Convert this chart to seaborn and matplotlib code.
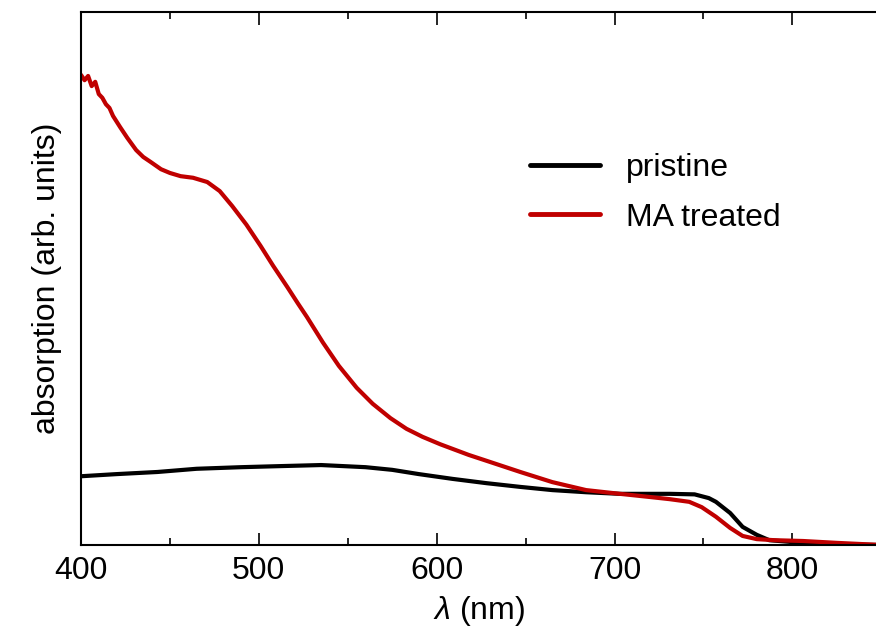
import numpy as np
import pandas as pd
import matplotlib
matplotlib.use('Agg')
import matplotlib.pyplot as plt
import seaborn as sns
from matplotlib.ticker import MultipleLocator

# wavelengths (nm) and absorption (arb. units)
wl_pristine = [400, 420, 443, 465, 490, 512, 535, 560, 575, 590, 609, 628, 647, 665,
               684, 703, 731, 745, 753, 757, 765, 772, 780, 787, 798, 810, 850]
abs_pristine = [0.129, 0.133, 0.137, 0.143, 0.146, 0.148, 0.150, 0.146, 0.141, 0.133,
                0.124, 0.116, 0.109, 0.103, 0.099, 0.096, 0.096, 0.095, 0.088, 0.081,
                0.060, 0.034, 0.019, 0.009, 0.006, 0.002, 0.0]

wl_treated = [400, 402, 404, 406, 408, 410, 412, 414, 416, 418, 422, 426, 431, 435, 439,
              445, 450, 456, 463, 471, 478, 485, 493, 501, 508, 516, 522, 527, 536, 545,
              555, 564, 574, 583, 592, 602, 618, 628, 647, 665, 684, 703, 720, 731, 742,
              749, 757, 765, 772, 780, 790, 806, 825, 850]
abs_treated = [0.882, 0.872, 0.880, 0.861, 0.869, 0.846, 0.839, 0.827, 0.820, 0.805,
               0.784, 0.764, 0.741, 0.728, 0.719, 0.705, 0.698, 0.692, 0.689, 0.681,
               0.664, 0.636, 0.601, 0.561, 0.524, 0.484, 0.453, 0.428, 0.380, 0.336,
               0.295, 0.265, 0.238, 0.218, 0.203, 0.189, 0.169, 0.158, 0.137, 0.118,
               0.103, 0.096, 0.090, 0.086, 0.081, 0.071, 0.053, 0.032, 0.017, 0.011,
               0.009, 0.0075, 0.004, 0.0]

df = pd.concat([
    pd.DataFrame({'wl': wl_pristine, 'abs': abs_pristine, 'sample': 'pristine'}),
    pd.DataFrame({'wl': wl_treated, 'abs': abs_treated, 'sample': 'MA treated'}),
], ignore_index=True)

sns.set_theme(style='ticks', rc={'axes.edgecolor': 'black', 'xtick.color': 'black',
                                 'text.color': 'black', 'axes.labelcolor': 'black'})
plt.rcParams['font.family'] = ['Liberation Sans', 'DejaVu Sans']
plt.rcParams['mathtext.fontset'] = 'custom'
plt.rcParams['mathtext.it'] = 'Liberation Sans:italic'
plt.rcParams['mathtext.rm'] = 'Liberation Sans'

fig = plt.figure(figsize=(8.76, 6.35), dpi=100)
ax = fig.add_axes([81 / 876, 1 - 545 / 635, 1 - 81 / 876, 533 / 635])

sns.lineplot(data=df, x='wl', y='abs', hue='sample', sort=False,
             palette={'pristine': 'black', 'MA treated': '#c00000'},
             linewidth=3.0, solid_joinstyle='round', ax=ax)

ax.set_xlim(400, 847)
ax.set_ylim(0, 1)
ax.set_yticks([])
ax.xaxis.set_major_locator(MultipleLocator(100))
ax.xaxis.set_minor_locator(MultipleLocator(50))
ax.tick_params(axis='x', which='both', direction='in', top=True, width=1.2,
               labelsize=23, pad=8, colors='black')
ax.tick_params(axis='x', which='major', length=9)
ax.tick_params(axis='x', which='minor', length=5)
for side in ['left', 'bottom', 'top']:
    ax.spines[side].set_linewidth(1.5)
    ax.spines[side].set_color('black')
ax.spines['right'].set_visible(False)

ax.set_xlabel(r'$\lambda$ (nm)', fontsize=23, labelpad=6, color='black')
ax.set_ylabel('absorption (arb. units)', fontsize=23, labelpad=14, color='black')

leg = ax.legend(loc='upper left', bbox_to_anchor=(0.565, 0.736), frameon=False,
                fontsize=23, handlelength=2.2, handletextpad=0.8,
                borderpad=0, borderaxespad=0, labelspacing=0.62)
for line in leg.get_lines():
    line.set_linewidth(3.5)
for t in leg.get_texts():
    t.set_color('black')

fig.savefig('out.png', dpi=100)
